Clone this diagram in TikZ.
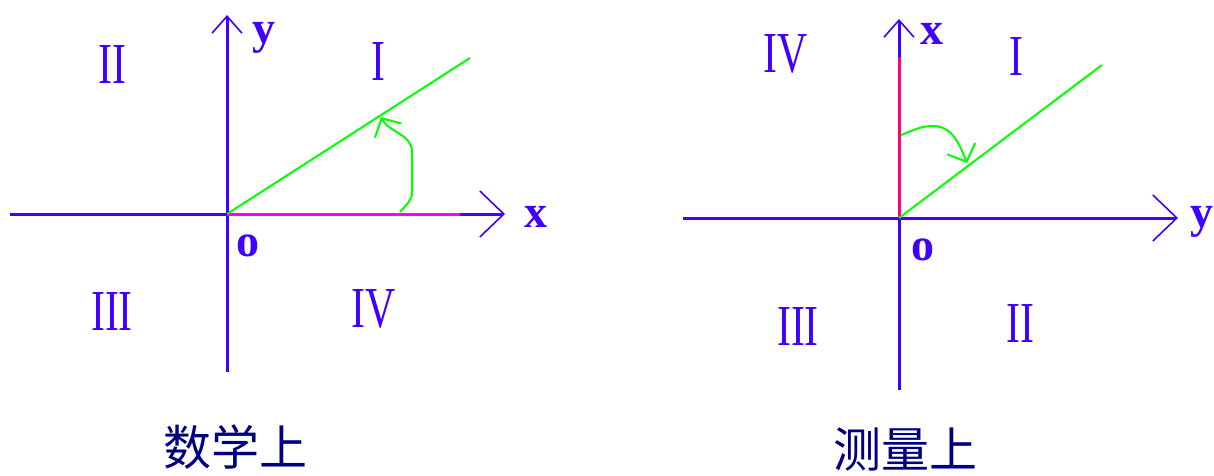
\documentclass[tikz,border=0pt]{standalone}
\usepackage{fontspec}
\usepackage{graphicx}
\setmainfont{Liberation Serif}
\newfontfamily\cjk{Noto Sans CJK SC}
\usetikzlibrary{arrows.meta}
\definecolor{axisblue}{HTML}{4000FF}
\definecolor{raygreen}{HTML}{00FF00}
\definecolor{navy}{HTML}{000080}
\definecolor{hotpink}{HTML}{FF0080}
\definecolor{fuchsia}{HTML}{FF00FF}
\newcommand\quadnum[1]{\scalebox{0.72}[1]{#1}}
\begin{document}
\begin{tikzpicture}[x=1pt,y=1pt]
        \tikzset{axis/.style={draw=axisblue, line width=3pt},
                 axtip/.style={-{Straight Barb[length=24pt,width=46pt,line width=1.6pt]}},
                 uptip/.style={-{Straight Barb[length=17pt,width=30pt,line width=1.6pt]}},
                 ray/.style={draw=raygreen, line width=2pt},
                 turn/.style={draw=raygreen, line width=2pt, -{Straight Barb[length=14pt,width=30pt,line width=2pt]}},
                 numeral/.style={text=axisblue, font=\fontsize{58}{58}\selectfont, inner sep=0pt},
                 axlabel/.style={text=axisblue, font=\fontsize{46}{46}\selectfont\bfseries, inner sep=0pt},
                 caption/.style={text=navy, font=\fontsize{48}{48}\selectfont\cjk, inner sep=0pt}}
        \useasboundingbox (0,0) rectangle (1214,-475);
        % left: mathematics
        \coordinate (oa) at (227,-214);
        \coordinate (xa) at (505,-214);
        \coordinate (xw) at (10,-214);
        \coordinate (ya) at (227,-15);
        \coordinate (ys) at (227,-372);
        \coordinate (ma) at (460,-214);
        \coordinate (ra) at (470,-58);
        \draw[axis] (oa) -- (xw);
        \draw[axis] (oa) -- (ys);
        \draw[axis, axtip] (oa) -- (xa);
        \draw[axis, uptip] (oa) -- (ya);
        \draw[draw=fuchsia, line width=3pt] (oa) -- (ma);
        \draw[ray] (oa) -- (ra);
        \draw[turn] (400,-212) to[out=50,in=-90] (412,-192) -- (412,-152) to[out=90,in=-62] (381,-117);
        \node[axlabel] (ly) at (264,-38) {y};
        \node[axlabel] (lx) at (536,-217) {x};
        \node[axlabel] (lo) at (248,-246) {o};
        \node[numeral] (q1) at (378,-62) {\quadnum{I}};
        \node[numeral] (q2) at (112,-65) {\quadnum{II}};
        \node[numeral] (q3) at (112,-312) {\quadnum{III}};
        \node[numeral] (q4) at (374,-309) {\quadnum{IV}};
        \node[caption] (math) at (235,-447) {数学上};
        % right: surveying
        \coordinate (ob) at (899,-218);
        \coordinate (xb) at (899,-19);
        \coordinate (xs) at (899,-390);
        \coordinate (yb) at (1178,-218);
        \coordinate (yw) at (683,-218);
        \coordinate (mb) at (899,-57);
        \coordinate (rb) at (1102,-65);
        \draw[axis] (ob) -- (yw);
        \draw[axis] (ob) -- (xs);
        \draw[axis, axtip] (ob) -- (yb);
        \draw[axis, uptip] (ob) -- (xb);
        \draw[draw=hotpink, line width=3pt] (ob) -- (mb);
        \draw[ray] (ob) -- (rb);
        \draw[turn] (901,-135) to[out=20,in=180] (933,-126) to[out=0,in=112] (967,-163);
        \node[axlabel] (lx2) at (932,-34) {x};
        \node[axlabel] (ly2) at (1202,-222) {y};
        \node[axlabel] (lo2) at (923,-250) {o};
        \node[numeral] (s1) at (1016,-57) {\quadnum{I}};
        \node[numeral] (s4) at (786,-54) {\quadnum{IV}};
        \node[numeral] (s3) at (798,-327) {\quadnum{III}};
        \node[numeral] (s2) at (1020,-324) {\quadnum{II}};
        \node[caption] (survey) at (905,-449) {测量上};
    \end{tikzpicture}
\end{document}
